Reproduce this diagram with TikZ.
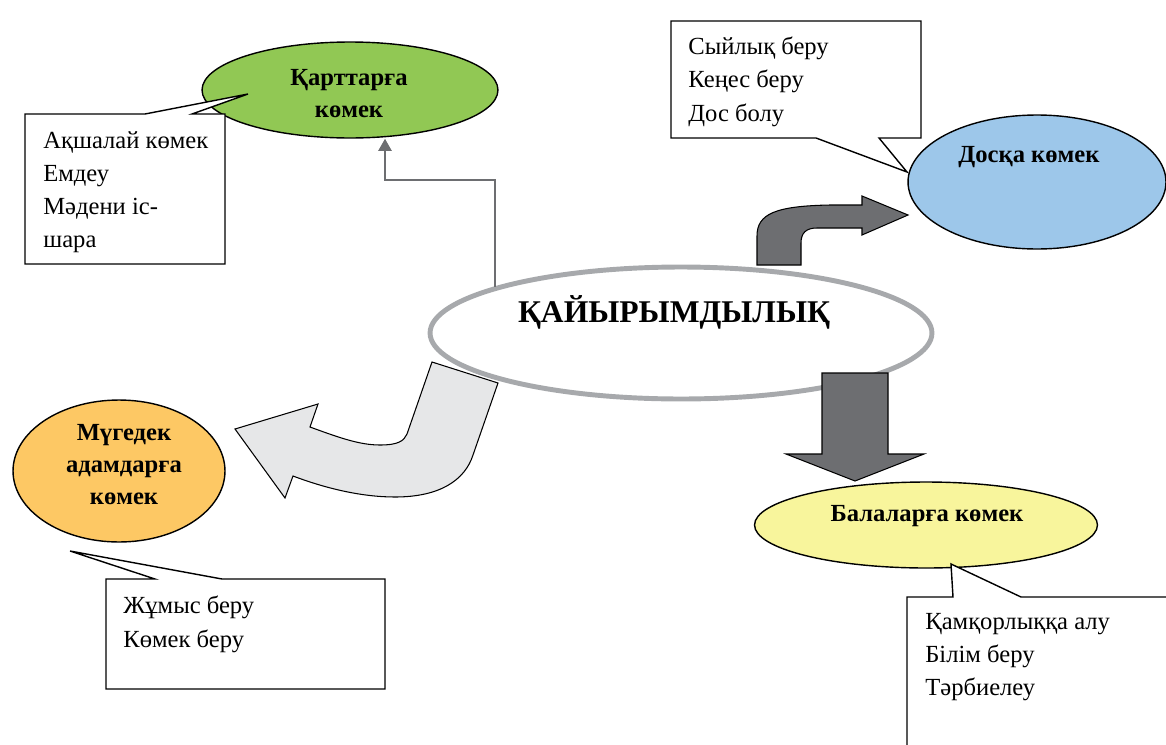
\documentclass[tikz,border=0pt]{standalone}
\usepackage{fontspec}
\setmainfont{Liberation Serif}
\usetikzlibrary{arrows.meta,shapes.geometric}
\definecolor{OldGreen}{HTML}{91C854}
\definecolor{FriendBlue}{HTML}{9DC7EA}
\definecolor{CareOrange}{HTML}{FDC864}
\definecolor{ChildYellow}{HTML}{F8F59C}
\definecolor{ArrowDark}{HTML}{6D6E71}
\definecolor{ArrowLight}{HTML}{E6E7E8}
\definecolor{RingGray}{HTML}{A7A9AC}

\begin{document}
\begin{tikzpicture}[x=0.02cm,y=-0.02cm,
  bubble/.style={draw=black,line width=0.8pt,ellipse,inner sep=0pt},
  bubbletext/.style={font=\fontsize{14}{18.2}\selectfont\bfseries,align=center,inner sep=0pt},
  notecard/.style={draw=black,fill=white,line width=0.8pt,line join=miter},
  notetext/.style={font=\fontsize{14}{18.8}\selectfont,align=left,anchor=north west,inner sep=0pt},
  bendarrow/.style={draw=black,line width=0.6pt,line join=miter},
  link/.style={draw=ArrowDark,line width=1.4pt,-{Triangle[length=7pt,width=7.5pt]}}
]
\clip (0,0) rectangle (1166,744);

\node[bubble,draw=RingGray,line width=2.8pt,fill=white,minimum width=10.04cm,minimum height=2.64cm] (centre) at (681,333) {};
\node[font=\fontsize{18}{22}\selectfont\bfseries,inner sep=0pt] (centreText) at (674,312) {ҚАЙЫРЫМДЫЛЫҚ};

\node[bubble,fill=OldGreen,minimum width=5.92cm,minimum height=1.92cm] (karttar) at (350,90) {};
\node[bubbletext] (karttarText) at (349,94) {Қарттарға\\көмек};

\node[bubble,fill=FriendBlue,minimum width=5.16cm,minimum height=2.68cm] (dosqa) at (1037,182) {};
\node[bubbletext] (dosqaText) at (1029,157) {Досқа көмек};

\node[bubble,fill=CareOrange,minimum width=4.24cm,minimum height=2.84cm] (mugedek) at (119,471) {};
\node[bubbletext] (mugedekText) at (124,465) {Мүгедек\\адамдарға\\көмек};

\node[bubble,fill=ChildYellow,minimum width=6.86cm,minimum height=1.72cm] (balalar) at (926,525) {};
\node[bubbletext] (balalarText) at (927,516) {Балаларға көмек};

\coordinate (bend) at (385,180);
\draw[link] (centre.166) |- (bend) -- (karttar.south -| bend);

\draw[bendarrow,fill=ArrowDark] (757,265) -- (757,236) .. controls (757,214) and (775,206) .. (830,205)
  -- (862,205) -- (862,196) -- (908,215) -- (862,235) -- (862,228) -- (817,228)
  .. controls (806,228) and (801,233) .. (801,243) -- (801,265) -- cycle;

\draw[bendarrow,fill=ArrowDark] (822,373) -- (888,373) -- (888,454) -- (924,454) -- (855,481)
  -- (786,454) -- (822,454) -- cycle;

\draw[bendarrow,fill=ArrowLight] (432,362) -- (407,434) .. controls (404,441) and (398,445) .. (380,445)
  .. controls (360,445) and (340,438) .. (310,427) -- (318,404) -- (235,429) -- (285,498) -- (293,476)
  .. controls (330,490) and (365,497) .. (395,497) .. controls (440,497) and (465,480) .. (473,455)
  -- (498,383) -- cycle;

\draw[notecard] (25,114) -- (145,114) -- (248,94) -- (192,114) -- (225,114) -- (225,264) -- (25,264) -- cycle;
\node[notetext] (karttarNote) at (43,131) {Ақшалай көмек\\Емдеу\\Мәдени іс-\\шара};

\draw[notecard] (671,21) -- (921,21) -- (921,138) -- (879,138) -- (907,172) -- (816,138) -- (671,138) -- cycle;
\node[notetext] (dosqaNote) at (688,37) {Сыйлық беру\\Кеңес беру\\Дос болу};

\draw[notecard] (106,579) -- (155,579) -- (70,551) -- (222,579) -- (385,579) -- (385,689) -- (106,689) -- cycle;
\node[notetext] (mugedekNote) at (123,596) {Жұмыс беру\\Көмек беру};

\draw[notecard] (907,597) -- (953,597) -- (951,564) -- (1021,597) -- (1190,597) -- (1190,770) -- (907,770) -- cycle;
\node[notetext] (balalarNote) at (925,613) {Қамқорлыққа алу\\Білім беру\\Тәрбиелеу};
\end{tikzpicture}
\end{document}
